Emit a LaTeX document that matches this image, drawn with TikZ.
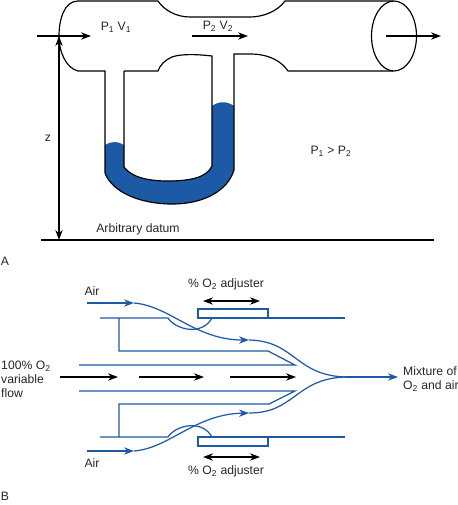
\documentclass[tikz,border=0pt]{standalone}
\usepackage{fontspec}
\setmainfont{Liberation Sans}
\usetikzlibrary{arrows.meta}
\definecolor{tubeblue}{HTML}{1C5AA6}
\tikzset{
    wall/.style={line width=1pt, black},
    flow/.style={line width=1pt, black, -{Stealth[length=3mm,width=2.2mm]}},
    both/.style={line width=1pt, black, {Stealth[length=3mm,width=2.2mm]}-{Stealth[length=3mm,width=2.2mm]}},
    bluewall/.style={line width=1.05pt, tubeblue},
    blueflow/.style={line width=1.05pt, tubeblue, -{Stealth[length=3mm,width=2.2mm]}},
    lab/.style={inner sep=0pt, font=\fontsize{10.4}{12}\selectfont, text=black!85},
}

\begin{document}
\begin{tikzpicture}[x=0.3mm,y=-0.3mm]
    \useasboundingbox (0,0) rectangle (458,505);

    % Fluid in the U tube
    \fill[tubeblue] (105,145) .. controls (112,141) and (118,141) .. (124,145)
        -- (124,167) .. controls (132,178) and (150,181) .. (168,181)
        .. controls (188,181) and (207,178) .. (212,166)
        -- (212,106) .. controls (219,101) and (227,101) .. (234,106)
        -- (234,170) .. controls (228,190) and (205,204) .. (172,204)
        .. controls (140,204) and (112,192) .. (105,173) -- cycle;

    % Venturi tube and manometer
    \draw[wall] (393,1) -- (285,1) .. controls (277,12) and (262,17) .. (250,17)
        -- (190,17) .. controls (176,17) and (164,10) .. (158,1) -- (78,1)
        .. controls (64,1) and (59,20) .. (59,36) .. controls (59,52) and (66,68) .. (78,71)
        -- (105,71) -- (105,173) .. controls (112,192) and (140,204) .. (172,204)
        .. controls (205,204) and (228,190) .. (234,170) -- (234,54) -- (250,54)
        .. controls (270,54) and (282,62) .. (288,71) -- (393,71);
    \draw[wall] (124,71) -- (124,167) .. controls (132,178) and (150,181) .. (168,181)
        .. controls (188,181) and (207,178) .. (212,166) -- (212,56)
        .. controls (195,54) and (180,54) .. (172,57) .. controls (165,60) and (160,65) .. (158,71)
        -- (124,71);
    \draw[wall] (394,36) ellipse (22.5 and 35);

    % Datum line
    \coordinate (datumL) at (41,240);
    \coordinate (datumR) at (434,240);
    \coordinate (datumZ) at (59,240);
    \draw[wall] (datumL) -- (datumR);

    % Arrows through the tube
    \coordinate (inA) at (37,36);
    \coordinate (inB) at (91,36);
    \coordinate (midA) at (192,36);
    \coordinate (midB) at (248,36);
    \coordinate (outA) at (386,36);
    \coordinate (outB) at (441,36);
    \coordinate (zTop) at (59,36);
    \draw[flow] (inA) -- (inB);
    \draw[flow] (midA) -- (midB);
    \draw[flow] (outA) -- (outB);
    \draw[both] (zTop) -- (datumZ);

    % Labels of A
    \node[lab] (pvOne) at (116,27) {P\textsubscript{1} V\textsubscript{1}};
    \node[lab] (pvTwo) at (218,26) {P\textsubscript{2} V\textsubscript{2}};
    \node[lab] (zLabel) at (48,138) {z};
    \node[lab] (compare) at (331,151) {P\textsubscript{1} > P\textsubscript{2}};
    \node[lab] (datum) at (138,229) {Arbitrary datum};
    \node[lab] (partA) at (5,261) {A};

    % Walls of the mixer
    \draw[bluewall] (100,318) -- (168,318) .. controls (176,330) and (202,336) .. (212,318);
    \draw[bluewall] (198,318) -- (345,318);
    \draw[bluewall] (198,318) rectangle (268,309);
    \draw[bluewall] (119,318) -- (119,351) -- (268,351) -- (295,365) -- (79,365);
    \draw[bluewall] (79,391) -- (295,391) -- (269,404) -- (119,404) -- (119,437);
    \draw[bluewall] (100,437) -- (168,437) .. controls (176,425) and (202,419) .. (212,437);
    \draw[bluewall] (198,437) -- (345,437);
    \draw[bluewall] (198,437) rectangle (268,446);

    % Air streams
    \coordinate (airTopA) at (87,303);
    \coordinate (airTopB) at (134,303);
    \coordinate (airTopC) at (249,340);
    \coordinate (airLowA) at (87,451);
    \coordinate (airLowB) at (134,451);
    \coordinate (airLowC) at (249,413);
    \coordinate (mixPt) at (345,377);
    \coordinate (mixEnd) at (398,377);
    \draw[blueflow] (airTopA) -- (airTopB);
    \draw[blueflow] (airTopB) .. controls (170,306) and (195,340) .. (airTopC);
    \draw[bluewall] (airTopC) .. controls (295,341) and (295,375) .. (mixPt);
    \draw[blueflow] (airLowA) -- (airLowB);
    \draw[blueflow] (airLowB) .. controls (170,448) and (195,414) .. (airLowC);
    \draw[bluewall] (airLowC) .. controls (295,413) and (295,379) .. (mixPt);
    \draw[blueflow] (mixPt) -- (mixEnd);

    % Oxygen flow and adjusters
    \coordinate (oxA) at (60,377);
    \coordinate (oxB) at (118,377);
    \coordinate (oxC) at (139,377);
    \coordinate (oxD) at (204,377);
    \coordinate (oxE) at (230,377);
    \coordinate (oxF) at (296,377);
    \coordinate (adjTopA) at (203,301);
    \coordinate (adjTopB) at (260,301);
    \coordinate (adjLowA) at (203,457);
    \coordinate (adjLowB) at (260,457);
    \draw[flow] (oxA) -- (oxB);
    \draw[flow] (oxC) -- (oxD);
    \draw[flow] (oxE) -- (oxF);
    \draw[both] (adjTopA) -- (adjTopB);
    \draw[both] (adjLowA) -- (adjLowB);

    % Labels of B
    \node[lab] (adjTop) at (226,284) {\% O\textsubscript{2} adjuster};
    \node[lab] (adjLow) at (226,471) {\% O\textsubscript{2} adjuster};
    \node[lab] (airTop) at (92,291) {Air};
    \node[lab] (airLow) at (92,463) {Air};
    \node[lab, anchor=west, align=left] (oxygen) at (1,379) {100\% O\textsubscript{2}\\variable\\flow};
    \node[lab, anchor=west, align=left] (mixture) at (403,379) {Mixture of\\O\textsubscript{2} and air};
    \node[lab] (partB) at (5,496) {B};
\end{tikzpicture}
\end{document}
